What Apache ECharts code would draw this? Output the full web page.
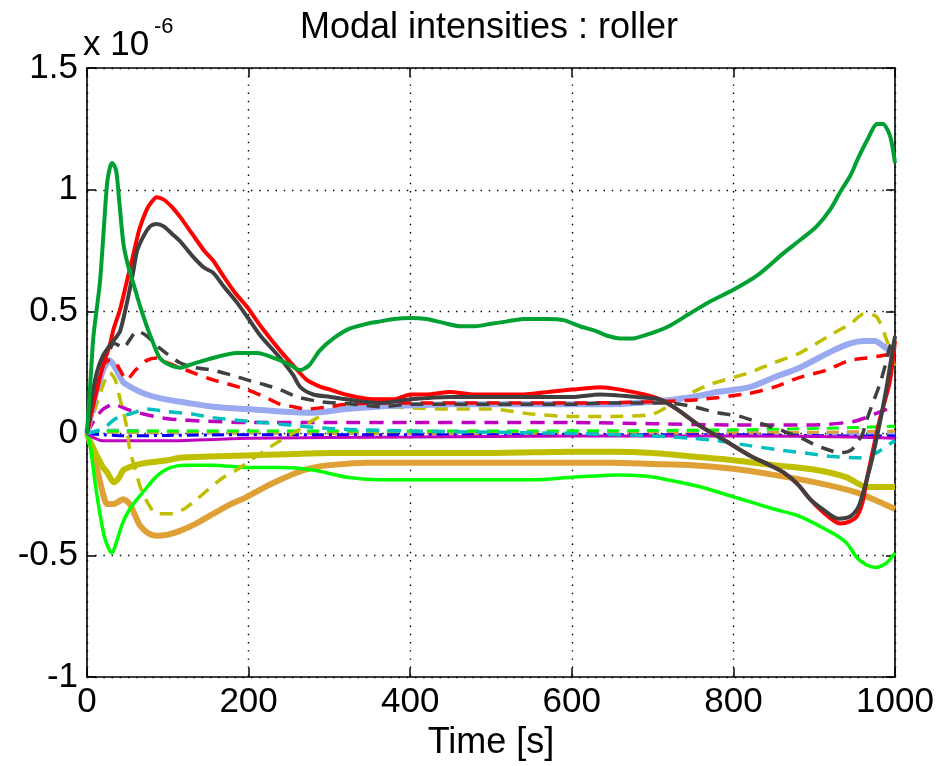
<!DOCTYPE html>
<html>
<head>
<meta charset="utf-8">
<script src="https://cdn.jsdelivr.net/npm/echarts@6/dist/echarts.min.js"></script>
<style>
html,body{margin:0;padding:0;background:#fff;}
#chart{width:939px;height:766px;}
</style>
</head>
<body>
<div id="chart"></div>
<script>
// ---- data (values in units of 1e-6) ----
const titleText = 'Modal intensities : roller';
const xName = 'Time [s]';
const xTicks = [0, 200, 400, 600, 800, 1000];
const yTicks = [-1, -0.5, 0, 0.5, 1, 1.5];

// dark green solid
const tGreen = [0,4,8,16,21,25,29,31,36,40,45,50,57,65,74,82,90,100,115,135,156,185,210,239,252,264,275,288,305,325,346,363,380,400,420,440,462,480,500,520,540,555,570,590,610,630,645,660,675,697,720,745,770,800,830,862,885,903,920,932,945,953,965,978,985,994,1000];
const vGreen = [0,0.2,0.4,0.62,0.85,1.03,1.10,1.11,1.08,0.95,0.78,0.70,0.62,0.53,0.44,0.37,0.31,0.285,0.27,0.29,0.31,0.33,0.33,0.30,0.28,0.26,0.28,0.34,0.39,0.43,0.45,0.46,0.47,0.474,0.47,0.455,0.44,0.44,0.45,0.46,0.47,0.47,0.47,0.465,0.44,0.42,0.40,0.39,0.39,0.41,0.44,0.49,0.54,0.59,0.65,0.74,0.80,0.85,0.92,0.99,1.06,1.12,1.20,1.27,1.27,1.22,1.11];

// red solid
const tRed = [0,10,20,28,33,41,49,57,65,74,80,86,95,105,115,130,145,156,170,185,198,215,239,255,272,290,301,320,354,380,400,420,449,480,511,540,570,600,635,660,690,709,730,759,790,820,845,862,880,895,910,932,945,953,960,965,972,981,988,994,1000];
const vRed = [0,0.15,0.28,0.36,0.43,0.51,0.62,0.73,0.84,0.92,0.95,0.97,0.96,0.93,0.89,0.82,0.75,0.71,0.64,0.57,0.52,0.44,0.34,0.28,0.22,0.19,0.18,0.16,0.14,0.14,0.16,0.16,0.17,0.16,0.16,0.16,0.17,0.18,0.19,0.18,0.16,0.14,0.10,0.03,-0.03,-0.09,-0.13,-0.16,-0.21,-0.27,-0.32,-0.37,-0.36,-0.34,-0.28,-0.19,-0.08,0.055,0.14,0.22,0.38];

// dark grey solid
const tGrey = [0,5,10,15,20,28,35,41,49,57,62,70,78,86,95,105,115,130,145,156,170,185,198,215,239,255,264,280,301,320,363,400,449,500,550,600,635,680,709,730,759,790,820,845,862,880,895,910,930,945,955,965,972,981,988,994,1000];
const vGrey = [0,0.12,0.22,0.28,0.32,0.36,0.39,0.42,0.53,0.66,0.75,0.81,0.85,0.86,0.85,0.82,0.79,0.73,0.68,0.66,0.60,0.54,0.48,0.40,0.31,0.24,0.19,0.16,0.15,0.14,0.125,0.14,0.15,0.15,0.15,0.15,0.16,0.15,0.14,0.10,0.03,-0.03,-0.09,-0.13,-0.16,-0.21,-0.27,-0.31,-0.35,-0.34,-0.30,-0.19,-0.10,0.04,0.16,0.28,0.40];

// dark grey dashed
const tGreyD = [0,10,20,28,33,40,45,52,62,74,90,115,135,156,178,198,220,239,260,290,330,363,400,450,500,550,600,650,690,718,750,780,808,835,862,885,903,920,932,945,953,960,965,972,981,988,994,1000];
const vGreyD = [0,0.15,0.28,0.34,0.37,0.36,0.35,0.38,0.42,0.40,0.35,0.29,0.27,0.26,0.24,0.22,0.20,0.18,0.15,0.13,0.12,0.11,0.12,0.12,0.12,0.12,0.12,0.125,0.125,0.125,0.11,0.085,0.07,0.04,0.01,-0.02,-0.05,-0.07,-0.08,-0.07,-0.04,0.0,0.055,0.12,0.20,0.28,0.36,0.40];

// red dashed
const tRedD = [0,10,20,28,33,41,49,60,74,86,100,115,135,156,178,198,220,239,255,272,300,322,360,400,500,600,700,760,820,850,882,915,944,965,985,1000];
const vRedD = [0,0.15,0.28,0.30,0.30,0.26,0.22,0.26,0.30,0.31,0.29,0.27,0.245,0.22,0.20,0.18,0.15,0.12,0.11,0.10,0.11,0.12,0.125,0.125,0.125,0.125,0.13,0.14,0.165,0.19,0.23,0.26,0.30,0.31,0.32,0.33];

// light blue solid
const tBlueL = [0,10,20,28,35,45,60,74,90,115,135,156,198,239,280,320,360,400,450,500,550,600,650,700,750,780,820,850,882,923,945,961,975,985,993,1000];
const vBlueL = [0,0.15,0.26,0.30,0.27,0.21,0.18,0.16,0.145,0.13,0.12,0.11,0.10,0.09,0.085,0.10,0.11,0.115,0.12,0.12,0.12,0.12,0.12,0.13,0.15,0.17,0.19,0.23,0.27,0.34,0.37,0.38,0.38,0.36,0.34,0.33];

// olive dashed
const tOliveD = [0,10,20,28,35,41,49,53,60,66,76,86,107,120,136,150,169,185,198,220,239,260,280,300,322,340,363,400,450,500,550,600,650,700,738,770,800,820,850,882,923,945,961,977,990,1000];
const vOliveD = [0,0.1,0.2,0.25,0.22,0.14,0.03,-0.07,-0.15,-0.22,-0.29,-0.33,-0.33,-0.31,-0.27,-0.23,-0.18,-0.15,-0.12,-0.07,-0.03,0.01,0.055,0.09,0.12,0.11,0.11,0.105,0.10,0.10,0.08,0.07,0.07,0.08,0.15,0.20,0.23,0.25,0.29,0.33,0.41,0.45,0.49,0.48,0.38,0.27];

// cyan dashed
const tCyan = [0,20,35,53,74,98,130,156,200,250,300,400,500,600,700,750,780,820,862,900,923,957,977,990,1000];
const vCyan = [0,0.02,0.06,0.08,0.10,0.09,0.08,0.065,0.05,0.035,0.02,0.01,0.005,0.0,-0.01,-0.02,-0.03,-0.05,-0.07,-0.085,-0.095,-0.10,-0.08,-0.05,-0.03];

// magenta dashed
const tMagD = [0,10,20,33,49,70,100,150,200,300,400,500,600,700,800,900,950,975,990,1000];
const vMagD = [0,0.06,0.10,0.12,0.10,0.08,0.06,0.05,0.045,0.045,0.045,0.045,0.045,0.04,0.035,0.035,0.05,0.08,0.10,0.12];

// magenta solid
const tMag = [0,10,20,50,100,200,400,600,800,950,1000];
const vMag = [0,-0.02,-0.03,-0.03,-0.03,-0.02,-0.015,-0.01,-0.01,-0.015,-0.02];

// blue dash-dot
const tBlue = [0,20,50,100,200,400,600,800,950,1000];
const vBlue = [0,-0.005,-0.01,-0.008,-0.005,-0.005,-0.005,-0.005,-0.01,-0.01];

// bright green dashed
const tLimeD = [0,20,50,100,300,500,700,800,900,960,1000];
const vLimeD = [0,0.01,0.01,0.01,0.01,0.01,0.012,0.015,0.02,0.025,0.03];

// orange dashed
const tOrangeD = [0,30,100,300,500,700,900,1000];
const vOrangeD = [0,0.005,0.005,0.0,0.0,0.0,0.005,0.01];

// light blue dashed
const tBlueLD = [0,30,100,300,500,700,900,1000];
const vBlueLD = [0,0.01,0.005,0.005,0.005,0.0,0.0,0.0];

// bright green solid
const tLime = [0,4,10,16,22,28,31,36,45,53,62,72,82,92,103,120,156,198,239,280,322,360,400,450,500,552,600,656,690,718,760,800,820,850,882,923,940,953,965,977,990,1000];
const vLime = [0,-0.05,-0.2,-0.33,-0.43,-0.48,-0.49,-0.45,-0.36,-0.31,-0.27,-0.23,-0.19,-0.16,-0.14,-0.13,-0.13,-0.14,-0.14,-0.15,-0.18,-0.19,-0.19,-0.19,-0.19,-0.19,-0.18,-0.17,-0.175,-0.19,-0.22,-0.26,-0.28,-0.31,-0.34,-0.41,-0.45,-0.51,-0.54,-0.55,-0.53,-0.49];

// olive solid
const tOlive = [0,5,12,20,25,33,40,45,60,74,100,115,150,198,250,300,400,500,600,650,700,750,800,850,903,940,965,985,1000];
const vOlive = [0,-0.04,-0.09,-0.14,-0.16,-0.20,-0.18,-0.15,-0.13,-0.12,-0.11,-0.10,-0.095,-0.09,-0.085,-0.08,-0.08,-0.08,-0.075,-0.075,-0.08,-0.095,-0.11,-0.13,-0.15,-0.18,-0.22,-0.22,-0.22];

// orange solid
const tOrange = [0,5,12,20,25,33,45,53,60,66,76,86,100,115,135,156,178,198,220,239,260,280,300,347,400,500,600,650,700,750,800,850,900,950,980,1000];
const vOrange = [0,-0.05,-0.14,-0.25,-0.29,-0.29,-0.27,-0.29,-0.34,-0.38,-0.41,-0.42,-0.415,-0.40,-0.37,-0.33,-0.29,-0.26,-0.22,-0.19,-0.16,-0.14,-0.13,-0.12,-0.12,-0.12,-0.12,-0.12,-0.125,-0.13,-0.145,-0.17,-0.20,-0.24,-0.28,-0.31];

// ---- build ----
function pairs(t, v) { return t.map((x, i) => [x, v[i]]); }
function line(name, t, v, color, width, type, z) {
  return {
    name: name, type: 'line', data: pairs(t, v), showSymbol: false, smooth: 0.25,
    lineStyle: { color: color, width: width, type: type || 'solid', cap: 'butt' },
    z: z || 2, animation: false, silent: true
  };
}
const FONT = '"Liberation Sans", Arial, sans-serif';
const chart = echarts.init(document.getElementById('chart'), null, { renderer: 'canvas' });
function gridLine() { return { show: true, lineStyle: { color: '#000', width: 1.4, type: [1.4, 6.8] } }; }
function tick() { return { show: true, inside: true, length: 9, lineStyle: { color: '#000', width: 1.5 } }; }
function axLine() { return { show: true, onZero: false, lineStyle: { color: '#000', width: 1.6 } }; }
const plain = v => String(v);
chart.setOption({
  backgroundColor: '#fff',
  animation: false,
  grid: { left: 87, right: 44, top: 68, bottom: 86.5, containLabel: false },
  xAxis: [
    { type: 'value', position: 'bottom', min: xTicks[0], max: xTicks[xTicks.length - 1], interval: 200,
      name: xName, nameLocation: 'middle', nameGap: 45,
      nameTextStyle: { fontFamily: FONT, fontSize: 36, color: '#000' },
      axisLine: axLine(), axisTick: tick(), splitLine: gridLine(),
      axisLabel: { fontFamily: FONT, fontSize: 35, color: '#000', margin: 8, formatter: plain } },
    { type: 'value', position: 'top', min: xTicks[0], max: xTicks[xTicks.length - 1], interval: 200,
      axisLine: axLine(), axisTick: tick(), splitLine: { show: false }, axisLabel: { show: false } }
  ],
  yAxis: [
    { type: 'value', position: 'left', min: yTicks[0], max: yTicks[yTicks.length - 1], interval: 0.5,
      axisLine: axLine(), axisTick: tick(), splitLine: gridLine(),
      axisLabel: { fontFamily: FONT, fontSize: 35, color: '#000', margin: 9, formatter: plain } },
    { type: 'value', position: 'right', min: yTicks[0], max: yTicks[yTicks.length - 1], interval: 0.5,
      axisLine: axLine(), axisTick: tick(), splitLine: { show: false }, axisLabel: { show: false } }
  ],
  graphic: [
    { type: 'text', x: 489, y: 28, style: { text: titleText, font: '36px ' + FONT, fill: '#000', align: 'center', verticalAlign: 'middle' } },
    { type: 'text', x: 83, y: 45, style: { text: 'x 10', font: '35px ' + FONT, fill: '#000', align: 'left', verticalAlign: 'middle' } },
    { type: 'text', x: 154, y: 27, style: { text: '-6', font: '22px ' + FONT, fill: '#000', align: 'left', verticalAlign: 'middle' } }
  ],
  series: [
    line('orange', tOrange, vOrange, '#DFA035', 6),
    line('olive', tOlive, vOlive, '#BFBF00', 6),
    line('lime', tLime, vLime, '#00FF00', 3.5),
    line('lightblue-dash', tBlueLD, vBlueLD, '#99AAF0', 5, [12, 8]),
    line('orange-dash', tOrangeD, vOrangeD, '#DFA035', 3, [12, 8]),
    line('lime-dash', tLimeD, vLimeD, '#00FF00', 3, [12, 8]),
    line('blue', tBlue, vBlue, '#0000FF', 3, [12, 5, 3, 5]),
    line('magenta', tMag, vMag, '#BF00BF', 3),
    line('magenta-dash', tMagD, vMagD, '#BF00BF', 3.5, [14, 9]),
    line('cyan-dash', tCyan, vCyan, '#00BFBF', 3.5, [13, 9]),
    line('olive-dash', tOliveD, vOliveD, '#BFBF00', 3.5, [13, 9]),
    line('lightblue', tBlueL, vBlueL, '#99AAF0', 6),
    line('red-dash', tRedD, vRedD, '#FF0000', 3.5, [13, 9]),
    line('grey-dash', tGreyD, vGreyD, '#404040', 3.5, [13, 9]),
    line('red', tRed, vRed, '#FF0000', 4),
    line('grey', tGrey, vGrey, '#404040', 4),
    line('green', tGreen, vGreen, '#00A033', 4)
  ]
});
</script>
</body>
</html>
